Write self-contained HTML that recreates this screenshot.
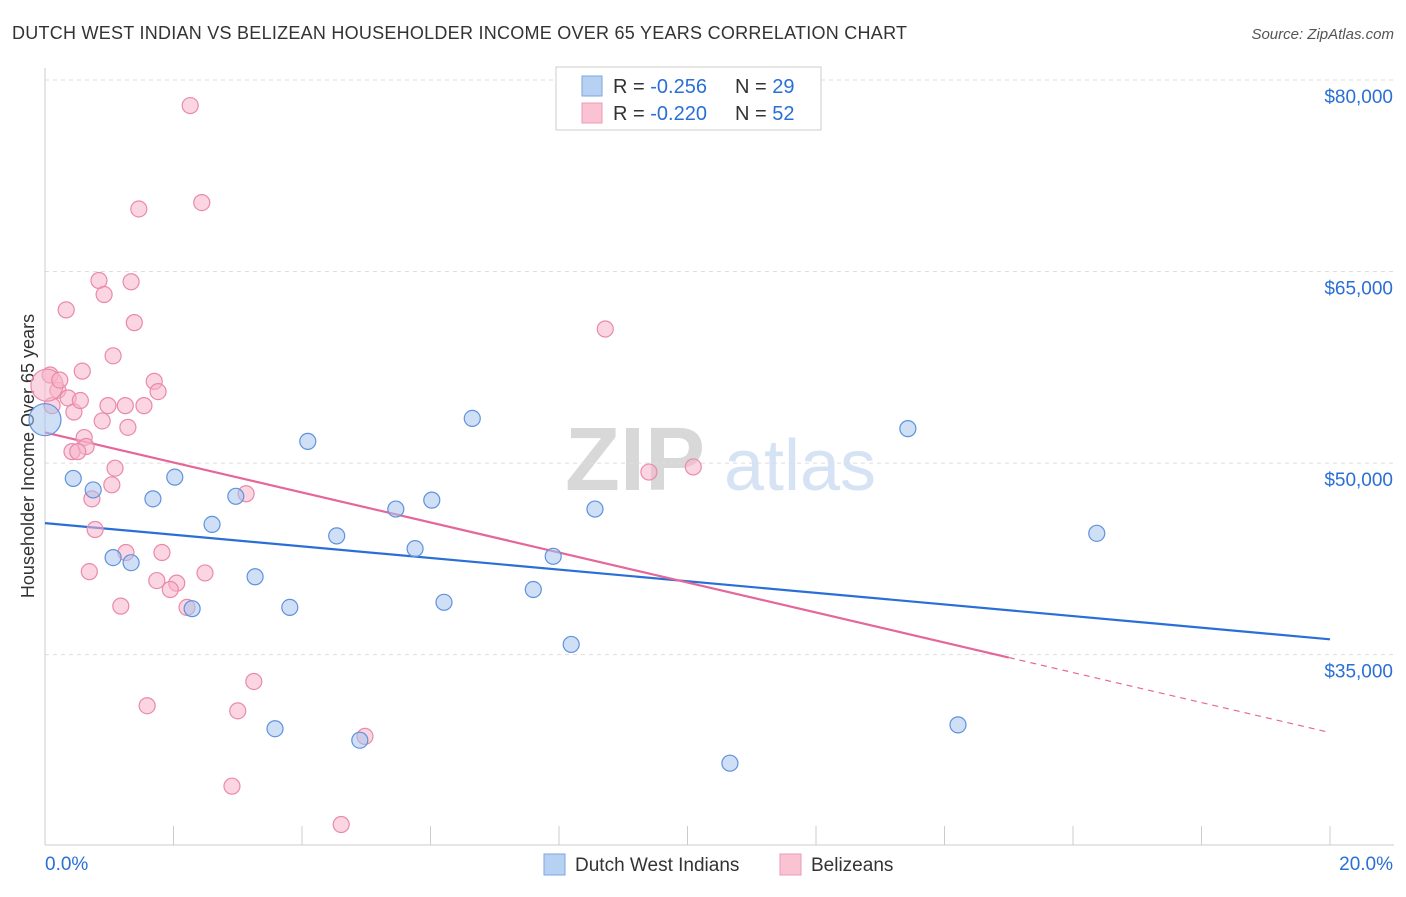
<!DOCTYPE html>
<html><head><meta charset="utf-8"><style>
body{margin:0;background:#fff;font-family:"Liberation Sans",sans-serif;}
svg text{font-family:"Liberation Sans",sans-serif;}
</style></head><body>
<svg id="chart" width="1406" height="892" xmlns="http://www.w3.org/2000/svg">
<text x="12" y="39" font-size="18" fill="#333" textLength="895">DUTCH WEST INDIAN VS BELIZEAN HOUSEHOLDER INCOME OVER 65 YEARS CORRELATION CHART</text>
<text x="1394" y="39" font-size="15" fill="#555" text-anchor="end" font-style="italic">Source: ZipAtlas.com</text>
<text transform="translate(34,456) rotate(-90)" font-size="18" fill="#333" text-anchor="middle">Householder Income Over 65 years</text>
<g>
<text x="635" y="490" font-size="90" fill="#d8d8d8" text-anchor="middle" font-family="Liberation Serif" font-weight="bold">ZIP</text>
<text x="800" y="490" font-size="72" fill="#d5e3f5" text-anchor="middle">atlas</text></g>
<g id="grid"></g><g id="axes"></g><g id="lines"></g><g id="pts"></g>
<g>
<rect x="556" y="67" width="265" height="63" fill="#fff" stroke="#ccc"/>
<rect x="582" y="76" width="20" height="20" fill="#b7d1f3" stroke="#7aa6e3"/>
<rect x="582" y="103" width="20" height="20" fill="#f9c3d3" stroke="#eb98b4"/>
<text x="613" y="93" font-size="20" fill="#333">R = <tspan fill="#2a6fd6">-0.256</tspan></text>
<text x="735" y="93" font-size="20" fill="#333">N = <tspan fill="#2a6fd6">29</tspan></text>
<text x="613" y="120" font-size="20" fill="#333">R = <tspan fill="#2a6fd6">-0.220</tspan></text>
<text x="735" y="120" font-size="20" fill="#333">N = <tspan fill="#2a6fd6">52</tspan></text>
</g>
<g>
<rect x="544" y="854" width="21" height="21" fill="#b7d1f3" stroke="#7aa6e3"/>
<text x="575" y="871" font-size="19" fill="#333">Dutch West Indians</text>
<rect x="780" y="854" width="21" height="21" fill="#f9c3d3" stroke="#eb98b4"/>
<text x="811" y="871" font-size="19" fill="#333">Belizeans</text>
</g>
</svg>
<script>
const yTicks=[35000,50000,65000,80000];
const yTickLabels=["$35,000","$50,000","$65,000","$80,000"];
const xTicks=[0,2,4,6,8,10,12,14,16,18,20];
const blueX=[0.0,0.44,0.75,1.06,1.34,1.68,2.02,2.29,2.60,2.97,3.27,3.81,4.09,4.54,4.90,3.58,5.46,5.76,6.02,6.21,6.65,7.60,7.91,8.19,8.56,10.66,13.43,14.21,16.37];
const blueY=[53.4,48.8,47.9,42.6,42.2,47.2,48.9,38.6,45.2,47.4,41.1,38.7,51.7,44.3,28.3,29.2,46.4,43.3,47.1,39.1,53.5,40.1,42.7,35.8,46.4,26.5,52.7,29.5,44.5];
const pinkX=[2.26,2.44,1.46,0.84,1.34,0.92,0.33,1.39,8.72,1.06,0.58,0.08,1.70,0.20,1.76,0.36,0.11,0.98,1.25,1.54,0.45,0.89,1.29,0.61,0.64,0.42,0.51,1.09,10.09,9.40,1.04,3.13,0.73,0.78,1.26,1.82,0.69,2.49,1.74,2.05,1.95,1.18,2.21,3.25,1.59,3.00,4.98,2.91,4.61,0.03,0.23,0.55];
const pinkY=[78.0,70.4,69.9,64.3,64.2,63.2,62.0,61.0,60.5,58.4,57.2,56.9,56.4,55.7,55.6,55.1,54.5,54.5,54.5,54.5,54.0,53.3,52.8,52.0,51.3,50.9,50.9,49.6,49.7,49.3,48.3,47.6,47.2,44.8,43.0,43.0,41.5,41.4,40.8,40.6,40.1,38.8,38.7,32.9,31.0,30.6,28.6,24.7,21.7,56.1,56.5,54.9];
const blueTrend=[45.3,36.2];
const pinkTrend=[52.4,28.9];
const pinkSolidEnd=15;
const NS="http://www.w3.org/2000/svg";
const X=v=>45+v*64.25;
const Y=v=>80+(80-v)*12.77;
function mk(t,a,p){const e=document.createElementNS(NS,t);for(const k in a)e.setAttribute(k,a[k]);document.getElementById(p).appendChild(e);return e;}
yTicks.forEach((t,i)=>{
 let l=mk('line',{x1:45,x2:1394,y1:Y(t/1000),y2:Y(t/1000),stroke:'#ddd','stroke-dasharray':'4,4'},'grid');
 
 
 let tx=mk('text',{x:1393,y:Y(t/1000)+23,'font-size':19,fill:'#2a6fd6','text-anchor':'end'},'axes');
 tx.textContent=yTickLabels[i];
 
 
});
let ax=mk('line',{x1:45,x2:45,y1:68,y2:845,stroke:'#ccc'},'axes');


let bx=mk('line',{x1:45,x2:1394,y1:845,y2:845,stroke:'#ccc'},'axes');


xTicks.forEach(t=>{
 let l=mk('line',{x1:X(t),x2:X(t),y1:826,y2:845,stroke:'#ccc'},'axes');
 
 
});
let xl0=mk('text',{x:45,y:870,'font-size':19,fill:'#2a6fd6'},'axes');xl0.textContent=xTicks[0].toFixed(1)+'%';


let xl1=mk('text',{x:1393,y:870,'font-size':19,fill:'#2a6fd6','text-anchor':'end'},'axes');xl1.textContent=xTicks[xTicks.length-1].toFixed(1)+'%';


function dots(xs,ys,fill,stroke,name,big){
 xs.forEach((x,i)=>{
  let r=(i===big)?16:8;
  let c=mk('circle',{cx:X(x),cy:Y(ys[i]),r:r,fill:fill,'fill-opacity':0.55,stroke:stroke,'stroke-width':1.2},'pts');
  
  
 });
}
dots(pinkX,pinkY,'#f7b3c8','#e98aaa','belizean-point',49);
dots(blueX,blueY,'#a6c5ef','#5f92dd','dutch-west-indian-point',0);
let bl=mk('line',{x1:X(0),y1:Y(blueTrend[0]),x2:X(20),y2:Y(blueTrend[1]),stroke:'#2a6fd6','stroke-width':2.2},'lines');


const pm=(pinkTrend[1]-pinkTrend[0])/20;
let pl=mk('line',{x1:X(0),y1:Y(pinkTrend[0]),x2:X(pinkSolidEnd),y2:Y(pinkTrend[0]+pm*pinkSolidEnd),stroke:'#e5679a','stroke-width':2.2},'lines');


let pd=mk('line',{x1:X(pinkSolidEnd),y1:Y(pinkTrend[0]+pm*pinkSolidEnd),x2:X(20),y2:Y(pinkTrend[1]),stroke:'#e5679a','stroke-width':1.2,'stroke-dasharray':'6,5'},'lines');


</script>
</body></html>
